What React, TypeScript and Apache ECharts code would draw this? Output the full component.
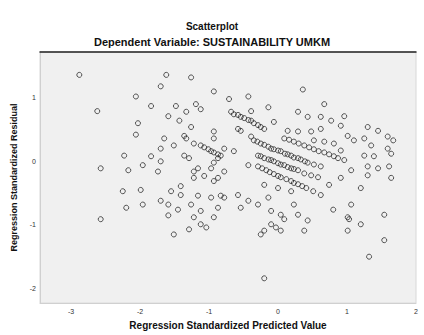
import React, { useEffect, useRef } from "react";
import * as echarts from "echarts";

const titleText = "Scatterplot";
const subtitleText = "Dependent Variable: SUSTAINABILITY UMKM";
const xAxisTitle = "Regression Standardized Predicted Value";
const yAxisTitle = "Regression Standardized Residual";

// Regression standardized predicted values (x)
const predicted: number[] = [
  -2.88, -2.62, -2.57, -2.57, -2.25, -2.20, -2.23, -2.17, -2.06, -2.03,
  -2.06, -1.99, -1.96, -1.96, -1.84, -1.84, -1.70, -1.62, -1.70, -1.70,
  -1.74, -1.65, -1.59, -1.70, -1.59, -1.59, -1.55, -1.51, -1.51, -1.48,
  -1.45, -1.43, -1.41, -1.41, -1.36, -1.36, -1.33, -1.33, -1.29, -1.29,
  -1.26, -1.26, -1.26, -1.22, -1.22, -1.22, -1.22, -1.19, -1.16, -1.16,
  -1.12, -1.12, -1.12, -1.12, -1.07, -1.04, -1.01, -0.97, -0.97, -0.93,
  -0.93, -0.93, -0.93, -0.93, -0.93, -0.93, -0.87, -0.87, -0.87, -0.83,
  -0.83, -0.78, -0.78, -0.78, -0.71, -0.68, -0.64, -0.58, -0.58, -0.58,
  -0.54, -0.54, -0.49, -0.43, -0.43, -0.43, -0.39, -0.39, -0.39, -0.35,
  -0.29, -0.29, -0.29, -0.29, -0.25, -0.25, -0.20, -0.20, -0.20, -0.20,
  -0.20, -0.17, -0.14, -0.14, -0.14, -0.10, -0.10, -0.10, -0.06, -0.06,
  -0.06, -0.03, 0.00, 0.00, 0.04, 0.04, 0.04, 0.04, 0.09, 0.09,
  0.09, 0.14, 0.14, 0.19, 0.19, 0.19, 0.23, 0.23, 0.23, 0.29,
  0.29, 0.29, 0.29, 0.29, 0.33, 0.36, 0.38, 0.38, 0.38, 0.41,
  0.43, 0.43, 0.43, 0.48, 0.48, 0.51, 0.52, 0.52, 0.52, 0.58,
  0.62, 0.62, 0.62, 0.62, 0.67, 0.67, 0.67, 0.74, 0.77, 0.80,
  0.81, 0.81, 0.87, 0.91, 0.91, 0.91, 0.96, 0.96, 1.01, 1.01,
  1.01, 1.06, 1.06, 1.10, 1.20, 1.20, 1.25, 1.25, 1.30, 1.30,
  1.30, 1.32, 1.35, 1.39, 1.45, 1.45, 1.54, 1.54, 1.59, 1.59,
  1.61, 1.64, 1.64, 1.67, 1.03,
  -1.07, -0.97, -0.87, -0.30, -0.20, -0.10, 0.00, 0.10, 0.19, 0.29,
  0.39, -0.25, -0.14, -0.06, 0.04, 0.14, 0.23, -0.23, -0.12, 0.00,
  0.12, 0.23, 0.35, -0.64, -0.54, -0.43, -0.35, -0.25, 0.16, 0.30,
  0.45, 0.59, 0.74,
];

// Regression standardized residuals (y)
const residual: number[] = [
  1.36, 0.79, -0.11, -0.91, -0.47, -0.73, 0.09, -0.14, 1.02, 0.60,
  0.42, -0.45, -0.68, -0.06, 0.08, 0.87, 1.18, 1.36, 0.20, 0.00,
  -0.16, 0.36, 0.71, -0.62, -0.68, -0.85, -0.47, 0.25, -1.15, 0.87,
  -0.76, 0.64, -0.39, -0.53, 0.40, 0.09, 0.78, 0.36, 0.05, -1.07,
  1.32, 0.54, -0.68, -0.88, 0.28, -0.16, -0.26, 0.90, -0.11, -0.54,
  0.82, 0.25, -0.78, -0.99, -0.23, -1.04, 0.19, -0.11, -0.57, 1.10,
  0.47, 0.36, 0.14, -0.02, -0.31, -0.88, 0.05, -0.26, -0.73, 0.09,
  -0.54, 0.20, -0.16, -0.57, 0.98, 0.78, 0.16, 0.73, 0.51, -0.53,
  0.48, -0.73, 0.68, 1.02, -0.06, -0.62, 0.79, 0.64, 0.39, 0.33,
  0.57, 0.09, -0.08, -0.68, 0.28, -1.15, 0.51, 0.05, -0.37, -1.09,
  -1.84, -0.14, 0.85, 0.23, -0.57, 0.02, -0.78, -0.99, 0.62, 0.19,
  -0.20, -1.04, -0.03, -0.42, 0.16, -0.25, -0.84, -1.09, 0.36, -0.06,
  -0.91, 0.48, 0.11, -0.11, -0.31, -0.47, 0.31, 0.06, -0.68, 0.78,
  0.47, -0.14, -0.36, -0.84, 0.03, 1.13, 0.25, -0.19, -1.09, -0.42,
  0.70, -0.02, -0.93, 0.47, -0.22, -0.47, 0.33, 0.19, -0.05, -0.25,
  0.70, 0.51, -0.08, -0.53, 0.90, 0.31, 0.14, -0.37, 0.64, -0.76,
  0.28, 0.08, 0.05, 0.56, 0.17, -0.26, 0.71, 0.02, 0.40, -0.88,
  -1.09, -0.14, -0.68, 0.33, -0.42, -0.99, 0.36, 0.09, 0.54, -0.08,
  -0.22, -1.50, 0.25, 0.08, 0.48, -0.11, -0.84, -1.24, 0.39, 0.20,
  -0.08, 0.12, -0.26, 0.33, -0.91,
  0.22, 0.16, 0.11, 0.31, 0.26, 0.20, 0.17, 0.12, 0.09, 0.05,
  0.00, 0.08, 0.03, 0.00, -0.05, -0.09, -0.12, -0.11, -0.17, -0.23,
  -0.28, -0.34, -0.39, 0.74, 0.70, 0.65, 0.60, 0.54, 0.34, 0.28,
  0.22, 0.16, 0.11,
];

const xTickValues = [-3, -2, -1, 0, 1, 2];
const yTickValues = [-2, -1, 0, 1];

export default function App() {
  const ref = useRef<HTMLDivElement>(null);

  useEffect(() => {
    if (!ref.current) return;
    const chart = echarts.init(ref.current, undefined, { renderer: "svg" });
    const points = predicted.map((x, i) => [x, residual[i]]);
    const isTick = (v: number, list: number[]) =>
      list.some((t) => Math.abs(t - v) < 1e-6);

    chart.setOption({
      animation: false,
      backgroundColor: "#ffffff",
      textStyle: { fontFamily: "Arial, 'Liberation Sans', sans-serif" },
      title: [
        {
          text: titleText,
          left: "center",
          top: 16,
          textStyle: { fontSize: 10, fontWeight: "bold", color: "#111" },
        },
        {
          text: subtitleText,
          left: "center",
          top: 31,
          textStyle: { fontSize: 11, fontWeight: "bold", color: "#111" },
        },
      ],
      grid: {
        left: 40,
        right: 8,
        top: 52,
        bottom: 28,
        show: true,
        backgroundColor: "#f0f0f0",
        borderColor: "#d8d8d8",
        borderWidth: 1,
      },
      xAxis: [
        {
          type: "value",
          min: -3.45,
          max: 2.0,
          splitNumber: 5,
          name: xAxisTitle,
          nameLocation: "middle",
          nameGap: 16,
          nameTextStyle: { fontSize: 10, fontWeight: "bold", color: "#111" },
          axisLine: { show: true, onZero: false, lineStyle: { color: "#d0d0d0" } },
          axisTick: { show: false },
          splitLine: { show: false },
          axisLabel: {
            fontSize: 7,
            color: "#333",
            margin: 5,
            showMinLabel: false,
            showMaxLabel: true,
            formatter: (v: number) => (isTick(v, xTickValues) ? String(v) : ""),
          },
        },
        {
          type: "value",
          position: "top",
          min: -3.45,
          max: 2.0,
          axisLine: { show: true, onZero: false, lineStyle: { color: "#222", width: 1.5 } },
          axisTick: { show: false },
          axisLabel: { show: false },
          splitLine: { show: false },
        },
      ],
      yAxis: {
        type: "value",
        min: -2.23,
        max: 1.72,
        name: yAxisTitle,
        nameLocation: "middle",
        nameGap: 17,
        nameRotate: 90,
        nameTextStyle: { fontSize: 9, fontWeight: "bold", color: "#111" },
        axisLine: { show: true, onZero: false, lineStyle: { color: "#d0d0d0" } },
        axisTick: { show: false },
        splitLine: { show: false },
        axisLabel: {
          fontSize: 7,
          color: "#333",
          margin: 4,
          showMinLabel: false,
          showMaxLabel: false,
          formatter: (v: number) => (isTick(v, yTickValues) ? String(v) : ""),
        },
      },
      series: [
        {
          type: "scatter",
          xAxisIndex: 0,
          data: points,
          symbol: "circle",
          symbolSize: 5,
          itemStyle: {
            color: "rgba(255,255,255,0)",
            borderColor: "#2a2a2a",
            borderWidth: 1,
          },
        },
      ],
    });

    return () => chart.dispose();
  }, []);

  return (
    <div
      ref={ref}
      style={{ position: "fixed", left: 0, top: 0, width: 424, height: 335 }}
    />
  );
}
